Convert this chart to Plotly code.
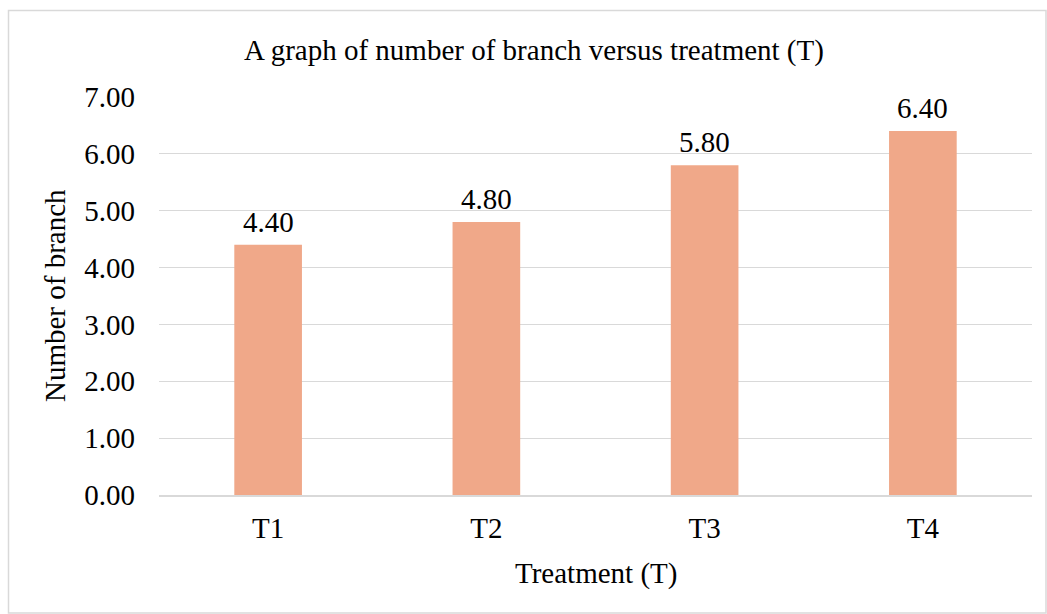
import plotly.graph_objects as go

categories = ["T1", "T2", "T3", "T4"]
values = [4.40, 4.80, 5.80, 6.40]
tick_vals = [0, 1, 2, 3, 4, 5, 6, 7]
tick_text = ["0.00", "1.00", "2.00", "3.00", "4.00", "5.00", "6.00", "7.00"]

font = "Liberation Serif, Times New Roman, serif"
FS = 29

fig = go.Figure(go.Bar(
    x=categories, y=values,
    marker=dict(color="#F0A889", line=dict(width=0)),
    hoverinfo="skip",
))

L, R, T, B = 159, 15, 97, 119
W, H = 1047, 614
pw, ph = W - L - R, H - T - B

def px_x(x):
    return (x - L) / pw

def px_y(y):
    return (H - B - y) / ph

annotations = [
    dict(x=c, y=v, xref="x", yref="y", text=f"{v:.2f}", showarrow=False,
         yanchor="bottom", yshift=5, font=dict(family=font, size=FS, color="#000000"))
    for c, v in zip(categories, values)
]
annotations.append(dict(x=px_x(55), y=0.5, xref="paper", yref="paper", text="Number of branch",
                        textangle=-90, showarrow=False, xanchor="center", yanchor="middle",
                        font=dict(family=font, size=FS, color="#000000")))
annotations.append(dict(x=0.5, y=px_y(573), xref="paper", yref="paper", text="Treatment (T)",
                        showarrow=False, xanchor="center", yanchor="middle",
                        font=dict(family=font, size=FS, color="#000000")))

fig.update_layout(
    width=W, height=H,
    margin=dict(l=L, r=R, t=T, b=B),
    paper_bgcolor="white", plot_bgcolor="white",
    bargap=0.69,
    showlegend=False,
    title=dict(text="A graph of number of branch versus treatment (T)",
               x=534 / W, xanchor="center", y=1 - 50 / H, yanchor="middle",
               font=dict(family=font, size=FS, color="#000000")),
    xaxis=dict(tickfont=dict(family=font, size=FS, color="#000000"),
               showgrid=False, showline=True, linecolor="#D9D9D9", linewidth=1.5,
               ticks="", ticklabelstandoff=6),
    yaxis=dict(tickfont=dict(family=font, size=FS, color="#000000"),
               tickvals=tick_vals, ticktext=tick_text, range=[0, 7],
               showgrid=True, gridcolor="#D9D9D9", gridwidth=1.2,
               zeroline=False, ticks="", ticklabelstandoff=23),
    annotations=annotations,
    shapes=[dict(type="rect", xref="paper", yref="paper",
                 x0=px_x(8.5), x1=px_x(1046), y0=px_y(613), y1=px_y(10.5),
                 line=dict(color="#D9D9D9", width=1.5), fillcolor="rgba(0,0,0,0)", layer="below")],
)

fig.write_html("out.html", config={"displayModeBar": False},
               post_script="document.body.style.margin='0';document.body.style.overflow='hidden';")
